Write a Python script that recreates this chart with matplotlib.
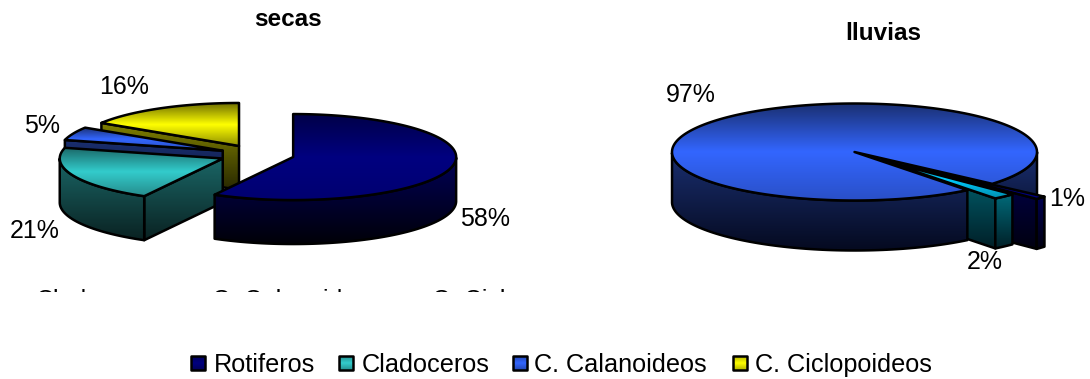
import numpy as np
import matplotlib
matplotlib.use("Agg")
import matplotlib.pyplot as plt
from matplotlib.colors import LinearSegmentedColormap
from matplotlib.patches import Polygon, Rectangle

plt.rcParams["font.family"] = ["Liberation Sans", "DejaVu Sans"]

categories = ["Rotiferos", "Cladoceros", "C. Calanoideos", "C. Ciclopoideos"]
secas_values = [58, 21, 5, 16]
lluvias_values = [1, 2, 97, 0]

# (top edge, bright middle, bottom edge, wall top, wall bottom) for each group
secas_colors = [
    ("#000048", "#000080", "#000070", "#000058", "#000008"),
    ("#1a6666", "#33cccc", "#268c8c", "#1a6666", "#0a2222"),
    ("#1a2f70", "#3366ff", "#2a50c0", "#1a2f70", "#0a1230"),
    ("#707000", "#ffff00", "#909000", "#808000", "#282800"),
]
lluvias_colors = [
    ("#000060", "#000090", "#000080", "#000050", "#000010"),
    ("#006880", "#00ccff", "#0090b0", "#006b7a", "#002028"),
    ("#1a2f70", "#3366ff", "#2a50c8", "#1a2f70", "#050a20"),
    ("#707000", "#ffff00", "#909000", "#808000", "#282800"),
]
legend_colors = ["#000080", "#33cccc", "#3366ff", "#ffff00"]

fig = plt.figure(figsize=(10.9, 3.79), dpi=100)
ax = fig.add_axes([0, 0, 1, 1])
zorder = [1]
ALL_PARTS = {"cuts", "wall0", "wall1", "top"}


def gradient_shape(verts, stops):
    """Fill a polygon with a vertical colour ramp and outline it in black."""
    verts = np.asarray(verts)
    z = zorder[0]
    zorder[0] += 1
    cmap = LinearSegmentedColormap.from_list("ramp", stops)
    x0, x1 = verts[:, 0].min(), verts[:, 0].max()
    y0, y1 = verts[:, 1].min(), verts[:, 1].max()
    ramp = np.linspace(0, 1, 128).reshape(-1, 1)
    img = ax.imshow(ramp, cmap=cmap, extent=(x0, x1, y1, y0), aspect="auto",
                    origin="upper", zorder=z, interpolation="bilinear")
    clip = Polygon(verts, closed=True, transform=ax.transData, fill=False, ec="none")
    ax.add_patch(clip)
    img.set_clip_path(clip)
    ax.add_patch(Polygon(verts, closed=True, fill=False, ec="black", lw=1.8,
                         joinstyle="round", zorder=z))


def pie3d(values, colors, center, rx, ry, depth, start, explode, layers):
    """Draw a tilted, extruded pie; angles run clockwise from `start` degrees.

    `layers` lists (slice index, parts) in painting order, so a slice can sit
    partly behind and partly in front of its neighbours.
    """
    total = sum(values)
    edges = start - np.cumsum([0] + list(values)) * 360.0 / total
    for i, parts in layers:
        if values[i] == 0:
            continue
        a1, a2 = edges[i], edges[i + 1]
        mid = np.radians((a1 + a2) / 2)
        cx = center[0] + explode[i] * rx * np.cos(mid)
        cy = center[1] - explode[i] * ry * np.sin(mid)
        top_edge, bright, low_edge, wall_top, wall_bottom = colors[i]
        wall_stops = [wall_top, wall_bottom]

        theta = np.radians(np.linspace(a1, a2, 240))
        rim = np.column_stack([cx + rx * np.cos(theta), cy - ry * np.sin(theta)])
        apex = np.array([cx, cy])
        drop = np.array([0, depth])

        # Cut faces that turn toward the viewer
        if "cuts" in parts:
            if np.sin(np.radians(a1 + 90)) < 0:
                gradient_shape([apex, rim[0], rim[0] + drop, apex + drop], wall_stops)
            if np.sin(np.radians(a2 - 90)) < 0:
                gradient_shape([apex, rim[-1], rim[-1] + drop, apex + drop], wall_stops)

        # Outer wall, one piece per front-facing run of the rim
        front = np.sin(theta) <= 0
        breaks = np.flatnonzero(np.diff(front.astype(int)))
        runs = [r for r in np.split(np.arange(len(theta)), breaks + 1)
                if front[r[0]] and len(r) > 1]
        for k, run in enumerate(runs):
            if f"wall{k}" in parts:
                wall = np.vstack([rim[run], rim[run][::-1] + drop])
                gradient_shape(wall, wall_stops)

        if "top" in parts:
            gradient_shape(np.vstack([apex, rim]), [top_edge, bright, low_edge])


pie3d(secas_values, secas_colors, center=(257, 154.6), rx=163, ry=43, depth=44,
      start=90, explode=[0.229] * 4,
      layers=[(3, ALL_PARTS), (2, ALL_PARTS), (1, ALL_PARTS), (0, ALL_PARTS)])
pie3d(lluvias_values, lluvias_colors, center=(854.5, 152), rx=182.5, ry=48.5, depth=50,
      start=-41, explode=[0.39, 0.23, 0, 0],
      layers=[(2, {"cuts", "wall1"}), (0, ALL_PARTS), (1, ALL_PARTS), (2, {"wall0", "top"})])

text_size = 18
ax.text(288, 19, "secas", ha="center", va="center", fontsize=17.5, fontweight="bold", zorder=100)
ax.text(883, 33, "lluvias", ha="center", va="center", fontsize=17.5, fontweight="bold", zorder=100)

secas_labels = ["58%", "21%", "5%", "16%"]
secas_label_xy = [(485, 219), (35, 231), (42, 126), (124, 87)]
lluvias_labels = ["1%", "2%", "97%"]
lluvias_label_xy = [(1067, 199), (985, 262), (691, 95)]
for s, (x, y) in zip(secas_labels + lluvias_labels, secas_label_xy + lluvias_label_xy):
    ax.text(x, y, s, ha="center", va="center", fontsize=text_size, zorder=100)

# Category names of the left panel, cut off by the panel's lower border
panel_clip = Rectangle((0, 0), 512, 292, transform=ax.transData)
for s, x in zip(categories[1:], [36, 212, 432]):
    t = ax.text(x, 301, s, ha="left", va="center", fontsize=text_size, zorder=100)
    t.set_clip_path(panel_clip)
    t.set_clip_on(True)

# Legend row
swatch_x = [191, 339, 513, 733]
label_x = [214, 362, 534, 755]
for name, color, sx, lx in zip(categories, legend_colors, swatch_x, label_x):
    r, g, b = matplotlib.colors.to_rgb(color)
    shade = (r * 0.7, g * 0.7, b * 0.7)
    gradient_shape([(sx, 356), (sx + 14, 356), (sx + 14, 370), (sx, 370)], [shade, color, shade])
    ax.text(lx, 365, name, ha="left", va="center", fontsize=18.15, zorder=100)

ax.set_xlim(0, 1090)
ax.set_ylim(379, 0)
ax.axis("off")
fig.savefig("out.png", dpi=100, facecolor="white")
